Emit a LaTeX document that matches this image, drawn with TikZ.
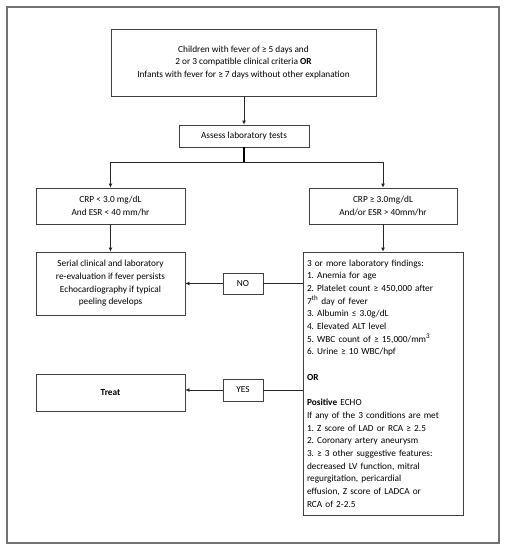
\documentclass[tikz,border=0pt]{standalone}
\usepackage{fontspec}
\setmainfont{Carlito}
\usetikzlibrary{arrows.meta}
\frenchspacing
\begin{document}
\begin{tikzpicture}[x=1pt,y=-1pt,
  box/.style={draw=black!75,line width=0.8pt,inner sep=2pt,align=center,
    font=\fontsize{9.3}{12.7}\selectfont},
  arr/.style={draw=black!85,line width=0.8pt,-{Latex[length=4pt,width=4pt]}},
  ln/.style={draw=black!85,line width=0.8pt}]
\useasboundingbox (0,0) rectangle (506,550);
\draw[draw=black!55,line width=1.4pt] (7,7) rectangle (499,543);
\node[box,minimum width=265pt,minimum height=67pt] (top) at (243.5,62.5)
  {Children with fever of ≥ 5 days and\\
   2 or 3 compatible clinical criteria \textbf{OR}\\
   Infants with fever for ≥ 7 days without other explanation};
\node[box,minimum width=130pt,minimum height=22pt] (assess) at (244,136)
  {Assess laboratory tests};
\node[box,minimum width=149pt,minimum height=36pt] (crpl) at (110.5,206)
  {CRP < 3.0 mg/dL\\And ESR < 40 mm/hr};
\node[box,minimum width=148pt,minimum height=36pt] (crpr) at (383,206)
  {CRP ≥ 3.0mg/dL\\And/or ESR > 40mm/hr};
\node[box,minimum width=149pt,minimum height=63pt] (serial) at (110.5,283.5)
  {Serial clinical and laboratory\\re-evaluation if fever persists\\
   Echocardiography if typical\\peeling develops};
\node[box,minimum width=160pt,minimum height=263pt,text width=152pt,align=left,inner sep=4pt] (find) at (383,383.5)
  {3 or more laboratory findings:\\
   1. Anemia for age\\
   2. Platelet count ≥ 450,000 after\\
   7\textsuperscript{\scriptsize th} day of fever\\
   3. Albumin ≤ 3.0g/dL\\
   4. Elevated ALT level\\
   5. WBC count of ≥ 15,000/mm\textsuperscript{\scriptsize 3}\\
   6. Urine ≥ 10 WBC/hpf\\[12.7pt]
   \textbf{OR}\\[12.7pt]
   \textbf{Positive} ECHO\\
   If any of the 3 conditions are met\\
   1. Z score of LAD or RCA ≥ 2.5\\
   2. Coronary artery aneurysm\\
   3. ≥ 3 other suggestive features:\\
   decreased LV function, mitral\\
   regurgitation, pericardial\\
   effusion, Z score of LADCA or\\
   RCA of 2-2.5};
\node[box,minimum width=40pt,minimum height=21pt] (no) at (243,283.5) {NO};
\node[box,minimum width=40pt,minimum height=22pt] (yes) at (243,390) {YES};
\node[box,minimum width=149pt,minimum height=37pt] (treat) at (110.5,392.5)
  {\raisebox{-4pt}{\textbf{Treat}}};
\coordinate (split) at (244,162);
\coordinate (sl) at (110.5,162);
\coordinate (sr) at (383,162);
\draw[arr] (top.south -| assess.north) -- (assess.north);
\draw[draw=black,line width=2pt] (assess.south) -- (split);
\draw[ln] (sl) -- (sr);
\draw[arr] (sl) -- (crpl.north);
\draw[arr] (sr) -- (crpr.north);
\draw[arr] (crpl.south) -- (serial.north);
\draw[arr] (crpr.south) -- (crpr.south |- find.north);
\draw[ln] (find.west |- no.east) -- (no.east);
\draw[arr] (no.west) -- (serial.east |- no.west);
\draw[ln] (find.west |- yes.east) -- (yes.east);
\draw[arr] (yes.west) -- (treat.east |- yes.west);
\end{tikzpicture}
\end{document}
